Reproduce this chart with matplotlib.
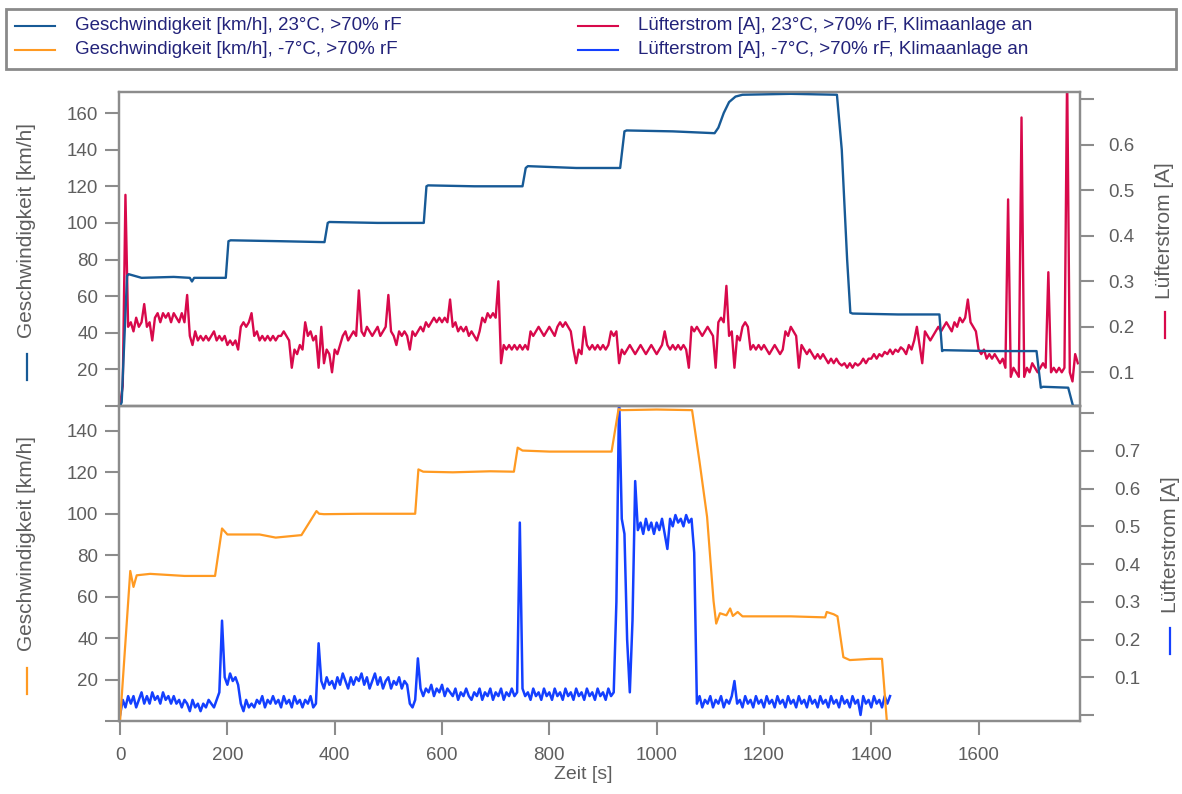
import numpy as np
import matplotlib
matplotlib.use('Agg')
import matplotlib.pyplot as plt
from matplotlib.lines import Line2D
from matplotlib.patches import Rectangle

plt.rcParams['font.family'] = ['Liberation Sans', 'DejaVu Sans']

# --- Geschwindigkeit 23°C (Stuetzstellen) ---
t_speed_23 = [0, 3, 13, 16, 40, 100, 130, 134, 138, 197, 202, 206, 300, 381, 387, 390,
              480, 566, 571, 574, 660, 750, 756, 760, 850, 932, 940, 944, 1030, 1108,
              1115, 1125, 1135, 1147, 1160, 1250, 1336, 1345, 1355, 1361, 1365, 1450,
              1527, 1532, 1535, 1620, 1708, 1716, 1720, 1767, 1776, 1790]
v_speed_23 = [0, 2, 71, 72, 70, 70.5, 70, 68, 70, 70, 90, 90.5, 90, 89.5, 100, 100.5,
              100, 100, 120, 120.5, 120, 120, 130, 131, 130, 130, 150, 150.5, 150, 149,
              152, 160, 166, 169, 170, 170.5, 170, 140, 80, 51, 50.5, 50,
              50, 30, 30.5, 30, 30, 10, 10.5, 10, 0, 0]

# --- Geschwindigkeit -7°C ---
t_speed_m7 = [0, 19, 25, 31, 56, 120, 177, 190, 200, 260, 290, 338, 366, 371, 380, 450,
              550, 556, 565, 620, 690, 734, 741, 750, 800, 860, 916, 929, 935, 1000, 1066,
              1080, 1094, 1106, 1111, 1118, 1130, 1137, 1142, 1151, 1160, 1250, 1314,
              1317, 1330, 1337, 1348, 1360, 1400, 1420, 1429, 1432]
v_speed_m7 = [0, 72.4, 64.7, 70.3, 71, 70, 70, 92.9, 90, 90, 88.5, 89.7, 101.3, 100, 99.8,
              100, 100, 121.4, 120.3, 120, 120.5, 120.3, 131.9, 130.5, 130, 130, 130, 150.5,
              150, 150.3, 150, 125, 98.5, 58, 47, 52, 51, 54.3, 50.7, 52.6, 50.5, 50.5, 50,
              52.6, 51.5, 50.5, 30.8, 29.4, 30, 30, 0, 0]

# --- Luefterstrom 23°C, alle 5 s ---
strom_23 = [
    0.03, 0.07, 0.49, 0.20, 0.21, 0.19, 0.22, 0.20, 0.21, 0.25,
    0.20, 0.21, 0.17, 0.22, 0.23, 0.21, 0.23, 0.22, 0.23, 0.21,
    0.23, 0.22, 0.21, 0.23, 0.21, 0.27, 0.18, 0.16, 0.19, 0.17,
    0.18, 0.17, 0.18, 0.17, 0.18, 0.19, 0.17, 0.18, 0.17, 0.18,
    0.16, 0.17, 0.16, 0.17, 0.15, 0.20, 0.21, 0.20, 0.21, 0.23,
    0.18, 0.19, 0.17, 0.18, 0.17, 0.18, 0.17, 0.18, 0.17, 0.18,
    0.18, 0.19, 0.18, 0.17, 0.11, 0.15, 0.14, 0.16, 0.15, 0.21,
    0.18, 0.19, 0.17, 0.18, 0.11, 0.20, 0.12, 0.15, 0.14, 0.10,
    0.15, 0.14, 0.16, 0.18, 0.19, 0.17, 0.18, 0.19, 0.18, 0.28,
    0.19, 0.18, 0.20, 0.19, 0.18, 0.19, 0.20, 0.18, 0.19, 0.20,
    0.27, 0.19, 0.18, 0.16, 0.19, 0.18, 0.19, 0.18, 0.15, 0.19,
    0.18, 0.19, 0.20, 0.19, 0.21, 0.20, 0.21, 0.22, 0.21, 0.22,
    0.21, 0.22, 0.21, 0.26, 0.20, 0.21, 0.19, 0.20, 0.19, 0.20,
    0.18, 0.19, 0.18, 0.17, 0.19, 0.22, 0.21, 0.23, 0.22, 0.23,
    0.22, 0.30, 0.12, 0.16, 0.15, 0.16, 0.15, 0.16, 0.15, 0.16,
    0.15, 0.16, 0.15, 0.19, 0.18, 0.19, 0.20, 0.19, 0.18, 0.19,
    0.20, 0.19, 0.18, 0.20, 0.21, 0.20, 0.21, 0.20, 0.19, 0.15,
    0.12, 0.15, 0.14, 0.20, 0.16, 0.15, 0.16, 0.15, 0.16, 0.15,
    0.16, 0.15, 0.16, 0.19, 0.18, 0.19, 0.12, 0.15, 0.14, 0.15,
    0.16, 0.15, 0.14, 0.15, 0.16, 0.15, 0.14, 0.15, 0.16, 0.15,
    0.14, 0.15, 0.16, 0.19, 0.16, 0.15, 0.16, 0.15, 0.16, 0.15,
    0.16, 0.15, 0.11, 0.20, 0.19, 0.20, 0.19, 0.18, 0.19, 0.20,
    0.19, 0.18, 0.11, 0.21, 0.22, 0.21, 0.29, 0.18, 0.19, 0.11,
    0.18, 0.17, 0.20, 0.21, 0.20, 0.15, 0.16, 0.15, 0.16, 0.15,
    0.16, 0.15, 0.14, 0.15, 0.16, 0.15, 0.14, 0.15, 0.19, 0.18,
    0.20, 0.19, 0.18, 0.11, 0.16, 0.15, 0.14, 0.15, 0.14, 0.13,
    0.14, 0.13, 0.14, 0.13, 0.12, 0.13, 0.12, 0.13, 0.12, 0.115,
    0.12, 0.11, 0.12, 0.11, 0.12, 0.115, 0.12, 0.13, 0.12, 0.13,
    0.13, 0.14, 0.13, 0.14, 0.135, 0.145, 0.14, 0.15, 0.14, 0.15,
    0.145, 0.155, 0.15, 0.14, 0.16, 0.15, 0.17, 0.20, 0.16, 0.12,
    0.19, 0.18, 0.17, 0.18, 0.19, 0.20, 0.19, 0.20, 0.21, 0.20,
    0.19, 0.21, 0.20, 0.22, 0.21, 0.22, 0.26, 0.21, 0.20, 0.19,
    0.15, 0.14, 0.15, 0.13, 0.14, 0.13, 0.14, 0.13, 0.12, 0.13,
    0.11, 0.48, 0.09, 0.11, 0.10, 0.09, 0.66, 0.09, 0.11, 0.10,
    0.12, 0.11, 0.10, 0.11, 0.12, 0.11, 0.32, 0.10, 0.11, 0.10,
    0.11, 0.10, 0.11, 0.76, 0.10, 0.08, 0.14, 0.12]

# --- Luefterstrom -7°C, alle 5 s ---
strom_m7 = [
    0.00, 0.04, 0.02, 0.05, 0.03, 0.05, 0.02, 0.04, 0.06, 0.03,
    0.05, 0.03, 0.06, 0.04, 0.05, 0.03, 0.06, 0.04, 0.05, 0.03,
    0.05, 0.03, 0.04, 0.02, 0.04, 0.03, 0.01, 0.04, 0.02, 0.03,
    0.01, 0.03, 0.02, 0.04, 0.03, 0.02, 0.04, 0.06, 0.25, 0.10,
    0.08, 0.11, 0.09, 0.10, 0.08, 0.03, 0.01, 0.04, 0.02, 0.03,
    0.02, 0.04, 0.03, 0.05, 0.02, 0.04, 0.03, 0.05, 0.03, 0.04,
    0.02, 0.05, 0.03, 0.04, 0.02, 0.05, 0.03, 0.04, 0.02, 0.04,
    0.03, 0.05, 0.02, 0.03, 0.19, 0.09, 0.07, 0.10, 0.08, 0.09,
    0.07, 0.10, 0.08, 0.11, 0.09, 0.07, 0.10, 0.08, 0.10, 0.09,
    0.11, 0.08, 0.10, 0.07, 0.09, 0.11, 0.08, 0.10, 0.07, 0.09,
    0.10, 0.07, 0.09, 0.08, 0.10, 0.07, 0.09, 0.08, 0.03, 0.02,
    0.04, 0.15, 0.07, 0.05, 0.07, 0.06, 0.08, 0.05, 0.07, 0.06,
    0.08, 0.05, 0.07, 0.06, 0.05, 0.07, 0.04, 0.06, 0.05, 0.07,
    0.05, 0.04, 0.06, 0.05, 0.07, 0.04, 0.06, 0.05, 0.07, 0.04,
    0.06, 0.05, 0.07, 0.04, 0.06, 0.05, 0.07, 0.05, 0.06, 0.51,
    0.07, 0.05, 0.06, 0.04, 0.07, 0.05, 0.06, 0.04, 0.07, 0.05,
    0.06, 0.04, 0.07, 0.05, 0.06, 0.04, 0.07, 0.05, 0.06, 0.04,
    0.07, 0.05, 0.06, 0.04, 0.07, 0.05, 0.06, 0.04, 0.07, 0.05,
    0.06, 0.04, 0.07, 0.05, 0.06, 0.30, 0.85, 0.52, 0.48, 0.20,
    0.06, 0.25, 0.62, 0.49, 0.51, 0.48, 0.52, 0.49, 0.51, 0.48,
    0.51, 0.49, 0.52, 0.48, 0.44, 0.52, 0.50, 0.53, 0.51, 0.52,
    0.50, 0.53, 0.51, 0.52, 0.43, 0.03, 0.05, 0.02, 0.04, 0.03,
    0.05, 0.02, 0.04, 0.03, 0.05, 0.02, 0.04, 0.03, 0.05, 0.09,
    0.03, 0.04, 0.02, 0.05, 0.03, 0.04, 0.02, 0.05, 0.03, 0.04,
    0.02, 0.05, 0.03, 0.04, 0.02, 0.05, 0.03, 0.04, 0.02, 0.05,
    0.03, 0.04, 0.02, 0.05, 0.03, 0.04, 0.02, 0.05, 0.03, 0.04,
    0.02, 0.05, 0.03, 0.04, 0.02, 0.05, 0.03, 0.04, 0.02, 0.05,
    0.03, 0.04, 0.02, 0.05, 0.03, 0.04, 0.00, 0.05, 0.03, 0.04,
    0.02, 0.05, 0.03, 0.04, 0.02, 0.05, 0.03, 0.05]

t_strom_23 = np.arange(len(strom_23)) * 5
t_strom_m7 = np.arange(len(strom_m7)) * 5

labels = ['Geschwindigkeit [km/h], 23°C, >70% rF',
          'Geschwindigkeit [km/h], -7°C, >70% rF',
          'Lüfterstrom [A], 23°C, >70% rF, Klimaanlage an',
          'Lüfterstrom [A], -7°C, >70% rF, Klimaanlage an']

c_speed23 = '#175a96'
c_speedm7 = '#ff9a22'
c_strom23 = '#d8094b'
c_stromm7 = '#1440ff'
grey = '#8c8c8c'
tcol = '#5e5e5e'

W, H = 1182, 794
fig = plt.figure(figsize=(W / 100, H / 100), dpi=100)
L, R = 119 / W, 1080 / W
ax1 = fig.add_axes([L, 1 - 406 / H, R - L, (406 - 92) / H])
ax3 = fig.add_axes([L, 1 - 721 / H, R - L, (721 - 406) / H], sharex=ax1)
ax2 = ax1.twinx()
ax4 = ax3.twinx()
for a, b in [(ax1, ax2), (ax3, ax4)]:
    a.set_zorder(b.get_zorder() + 1)
    a.patch.set_visible(False)

ax2.plot(t_strom_23, strom_23, color=c_strom23, lw=1.7)
ax1.plot(t_speed_23, v_speed_23, color=c_speed23, lw=1.7)
ax4.plot(t_strom_m7, strom_m7, color=c_stromm7, lw=1.8)
ax3.plot(t_speed_m7, v_speed_m7, color=c_speedm7, lw=1.6)

ax1.set_xlim(-2, 1789)
ax1.set_ylim(0, 171.5)
ax2.set_ylim(0.026, 0.716)
ax3.set_ylim(0, 152)
ax4.set_ylim(-0.016, 0.819)

ax1.set_yticks(range(0, 161, 20))
ax1.set_yticklabels([''] + [str(v) for v in range(20, 161, 20)])
ax2.set_yticks([0.1, 0.2, 0.3, 0.4, 0.5, 0.6, 0.7])
ax2.set_yticklabels(['0.1', '0.2', '0.3', '0.4', '0.5', '0.6', ''])
ax3.set_yticks(range(0, 141, 20))
ax3.set_yticklabels([''] + [str(v) for v in range(20, 141, 20)])
ax4.set_yticks([0.0, 0.1, 0.2, 0.3, 0.4, 0.5, 0.6, 0.7, 0.8])
ax4.set_yticklabels(['', '0.1', '0.2', '0.3', '0.4', '0.5', '0.6', '0.7', ''])
ax3.set_xticks(range(0, 1601, 200))

for a in [ax1, ax2, ax3, ax4]:
    for s in a.spines.values():
        s.set_color(grey)
        s.set_linewidth(1.6)
    a.tick_params(direction='out', length=10, width=1.5, color=grey,
                  labelcolor=tcol, labelsize=13.5)
ax1.tick_params(axis='x', bottom=False, labelbottom=False)
ax2.tick_params(axis='x', bottom=False, labelbottom=False)
ax1.tick_params(axis='y', pad=5)
ax3.tick_params(axis='y', pad=5)
ax2.tick_params(axis='y', pad=10)
ax4.tick_params(axis='y', pad=15)
ax3.tick_params(axis='x', pad=9)

# Achsenbeschriftungen mit farbigem Strich
def ylab(ax, x, y_text, y_dash, text, color):
    ax.text(x, y_text, text, transform=ax.transAxes, rotation=90, ha='center',
            va='center', fontsize=15, color=tcol)
    half = 13 / ax.bbox.height
    ax.plot([x, x], [y_dash - half, y_dash + half], transform=ax.transAxes,
            clip_on=False, color=color, lw=1.6)

ylab(ax1, -0.096, 0.56, 0.124, 'Geschwindigkeit [km/h]', c_speed23)
ylab(ax2, 1.088, 0.557, 0.258, 'Lüfterstrom [A]', c_strom23)
ylab(ax3, -0.096, 0.565, 0.127, 'Geschwindigkeit [km/h]', c_speedm7)
ylab(ax4, 1.094, 0.559, 0.254, 'Lüfterstrom [A]', c_stromm7)
ax3.text(0.483, -0.171, 'Zeit [s]', transform=ax3.transAxes, ha='center',
         va='center', fontsize=14, color=tcol)

# Legende oben
fig.add_artist(Rectangle((6 / W, 1 - 69 / H), 1170 / W, 60 / H, transform=fig.transFigure,
                         facecolor='white', edgecolor='#8a8a8a', linewidth=2))
entries = [(15, 26, c_speed23, labels[0]), (15, 50, c_speedm7, labels[1]),
           (578, 26, c_strom23, labels[2]), (578, 50, c_stromm7, labels[3])]
for x0, y0, c, lab in entries:
    fig.add_artist(Line2D([x0 / W, (x0 + 40) / W], [1 - y0 / H, 1 - y0 / H],
                          transform=fig.transFigure, color=c, lw=1.5))
    fig.text((x0 + 60) / W, 1 - y0 / H, lab, ha='left', va='center',
             fontsize=13.5, color='#23237a')

fig.savefig('out.png', dpi=100)
